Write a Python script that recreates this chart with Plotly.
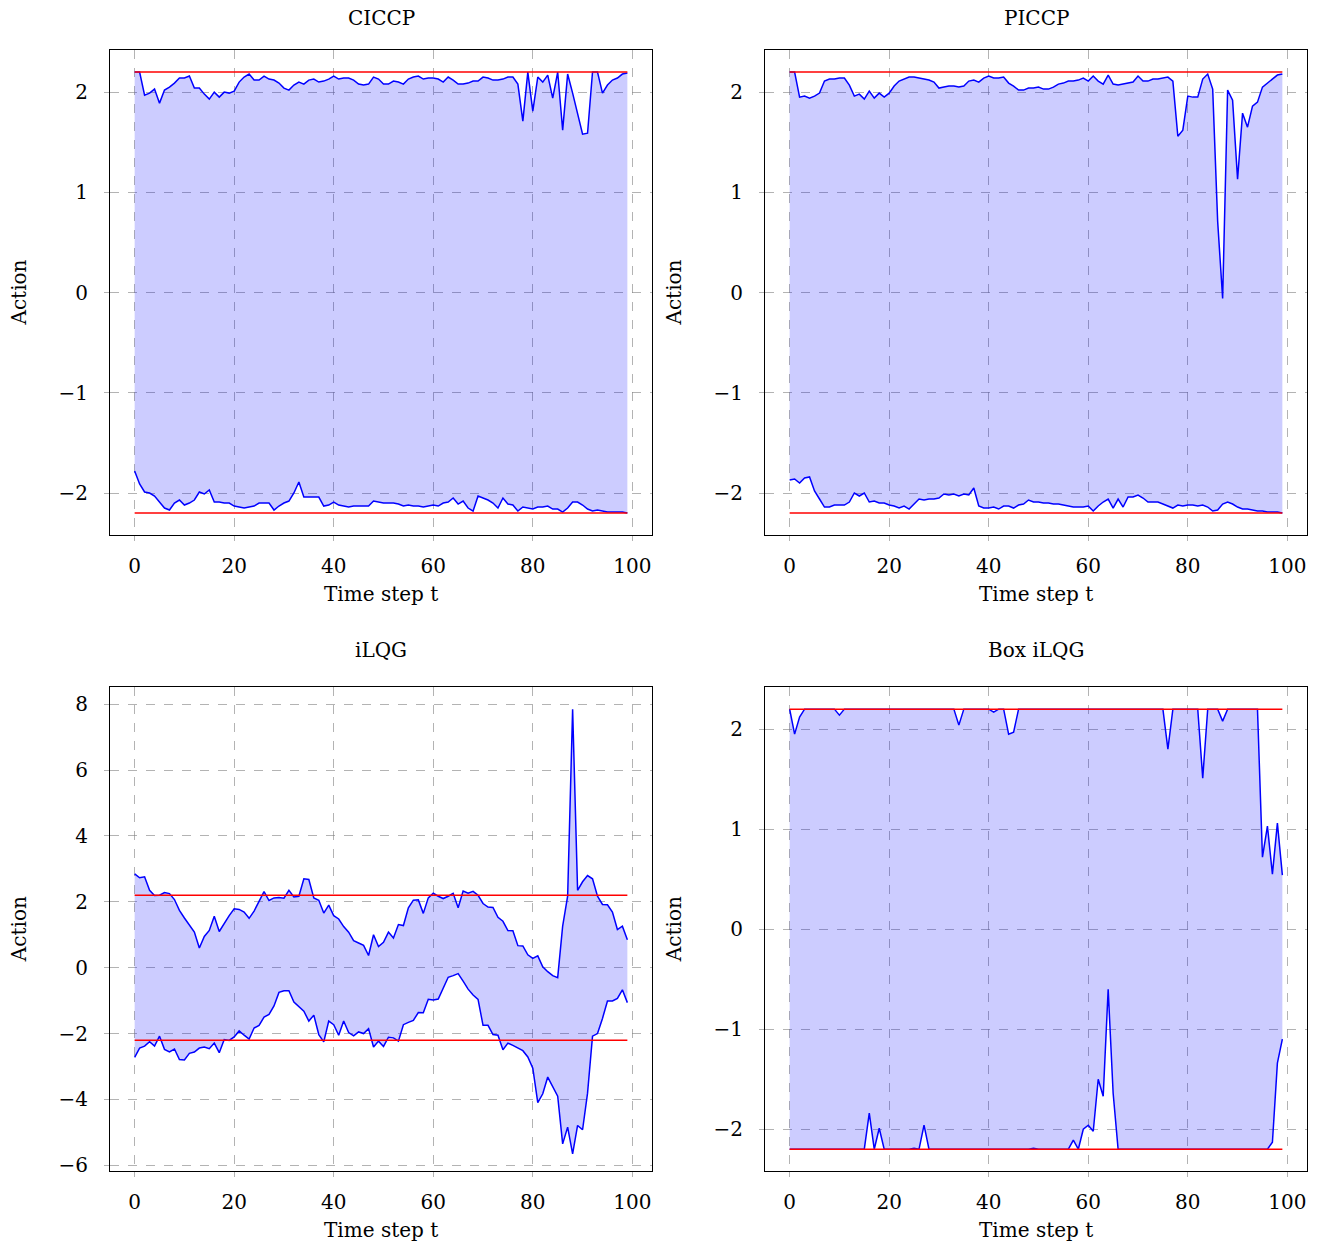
import plotly.graph_objects as go

t = list(range(100))

ciccp_upper = [2.2, 2.2, 1.97, 1.99, 2.03, 1.89, 2.02, 2.05, 2.09, 2.14,
               2.14, 2.16, 2.04, 2.04, 1.98, 1.93, 2.00, 1.95, 2.00, 1.99,
               2.01, 2.10, 2.15, 2.18, 2.12, 2.12, 2.16, 2.13, 2.12, 2.09,
               2.04, 2.02, 2.07, 2.10, 2.08, 2.12, 2.13, 2.10, 2.11, 2.13,
               2.16, 2.13, 2.14, 2.14, 2.12, 2.08, 2.07, 2.08, 2.15, 2.13,
               2.08, 2.08, 2.11, 2.10, 2.08, 2.13, 2.15, 2.16, 2.13, 2.14,
               2.14, 2.13, 2.10, 2.15, 2.12, 2.08, 2.08, 2.09, 2.11, 2.11,
               2.15, 2.14, 2.12, 2.12, 2.13, 2.15, 2.15, 2.08, 1.71, 2.2,
               1.81, 2.15, 2.10, 2.17, 1.94, 2.2, 1.62, 2.18, 1.99, 1.77,
               1.58, 1.59, 2.2, 2.2, 1.99, 2.07, 2.12, 2.14, 2.18, 2.19]
ciccp_lower = [-1.78, -1.91, -1.99, -2.00, -2.03, -2.09, -2.15, -2.17, -2.10, -2.07,
               -2.12, -2.10, -2.07, -1.99, -2.01, -1.97, -2.09, -2.09, -2.10, -2.10,
               -2.13, -2.14, -2.15, -2.14, -2.13, -2.10, -2.10, -2.10, -2.17, -2.13,
               -2.10, -2.08, -2.00, -1.89, -2.04, -2.04, -2.04, -2.04, -2.13, -2.12,
               -2.09, -2.12, -2.13, -2.14, -2.13, -2.13, -2.13, -2.13, -2.08, -2.09,
               -2.10, -2.10, -2.10, -2.11, -2.13, -2.12, -2.13, -2.13, -2.14, -2.13,
               -2.12, -2.13, -2.10, -2.09, -2.05, -2.11, -2.08, -2.15, -2.18, -2.03,
               -2.05, -2.07, -2.10, -2.15, -2.05, -2.11, -2.12, -2.18, -2.14, -2.15,
               -2.16, -2.14, -2.14, -2.13, -2.16, -2.16, -2.19, -2.15, -2.09, -2.09,
               -2.12, -2.16, -2.18, -2.17, -2.18, -2.19, -2.19, -2.19, -2.19, -2.20]

piccp_upper = [2.2, 2.2, 1.95, 1.96, 1.94, 1.96, 1.99, 2.11, 2.13, 2.13,
               2.14, 2.14, 2.07, 1.96, 1.98, 1.93, 2.01, 1.94, 1.99, 1.95,
               1.99, 2.06, 2.11, 2.13, 2.15, 2.15, 2.14, 2.13, 2.12, 2.10,
               2.04, 2.05, 2.06, 2.06, 2.05, 2.06, 2.11, 2.12, 2.10, 2.14,
               2.16, 2.14, 2.14, 2.15, 2.09, 2.06, 2.02, 2.02, 2.04, 2.04,
               2.05, 2.03, 2.03, 2.05, 2.08, 2.09, 2.11, 2.11, 2.12, 2.14,
               2.11, 2.16, 2.11, 2.08, 2.17, 2.08, 2.07, 2.08, 2.09, 2.10,
               2.16, 2.11, 2.11, 2.13, 2.13, 2.14, 2.15, 2.11, 1.56, 1.62,
               1.96, 1.95, 1.95, 2.13, 2.18, 2.03, 0.71, -0.06, 2.02, 1.92,
               1.13, 1.79, 1.65, 1.86, 1.90, 2.05, 2.09, 2.13, 2.17, 2.18]
piccp_lower = [-1.87, -1.86, -1.90, -1.85, -1.84, -1.98, -2.06, -2.14, -2.14, -2.12,
               -2.12, -2.12, -2.09, -2.00, -2.03, -2.00, -2.09, -2.08, -2.10, -2.10,
               -2.12, -2.13, -2.15, -2.13, -2.16, -2.11, -2.06, -2.07, -2.06, -2.06,
               -2.05, -2.01, -2.02, -2.01, -2.03, -2.01, -2.02, -1.95, -2.13, -2.15,
               -2.15, -2.14, -2.16, -2.13, -2.13, -2.15, -2.12, -2.11, -2.07, -2.09,
               -2.09, -2.10, -2.10, -2.11, -2.11, -2.12, -2.13, -2.14, -2.14, -2.14,
               -2.13, -2.18, -2.13, -2.09, -2.06, -2.15, -2.06, -2.14, -2.04, -2.04,
               -2.02, -2.05, -2.09, -2.09, -2.09, -2.11, -2.13, -2.15, -2.12, -2.13,
               -2.12, -2.12, -2.13, -2.12, -2.14, -2.18, -2.17, -2.11, -2.09, -2.11,
               -2.14, -2.16, -2.16, -2.17, -2.18, -2.18, -2.19, -2.19, -2.19, -2.20]

ilqg_upper = [2.85, 2.73, 2.76, 2.35, 2.19, 2.20, 2.28, 2.25, 2.07, 1.74,
              1.51, 1.31, 1.08, 0.60, 0.95, 1.13, 1.56, 1.10, 1.35, 1.58,
              1.79, 1.77, 1.69, 1.50, 1.72, 2.00, 2.31, 2.04, 2.12, 2.13,
              2.11, 2.35, 2.15, 2.17, 2.70, 2.68, 2.12, 2.05, 1.66, 1.90,
              1.58, 1.48, 1.25, 1.08, 0.82, 0.75, 0.68, 0.37, 1.00, 0.64,
              0.77, 1.08, 0.90, 1.31, 1.28, 1.82, 2.05, 2.06, 1.65, 2.12,
              2.26, 2.17, 2.10, 2.17, 2.26, 1.82, 2.33, 2.26, 2.32, 2.20,
              1.95, 1.84, 1.83, 1.53, 1.41, 1.13, 1.12, 0.67, 0.66, 0.39,
              0.28, 0.36, 0.03, -0.12, -0.24, -0.30, 1.26, 2.17, 7.85, 2.35,
              2.61, 2.80, 2.70, 2.17, 1.92, 1.91, 1.69, 1.16, 1.26, 0.85]
ilqg_lower = [-2.72, -2.44, -2.38, -2.25, -2.38, -2.08, -2.48, -2.56, -2.47, -2.79,
              -2.80, -2.60, -2.56, -2.44, -2.41, -2.46, -2.29, -2.58, -2.18, -2.21,
              -2.10, -1.92, -2.05, -2.17, -1.83, -1.75, -1.50, -1.42, -1.16, -0.75,
              -0.70, -0.70, -1.04, -1.17, -1.32, -1.62, -1.44, -2.03, -2.25, -1.62,
              -1.73, -2.05, -1.62, -1.97, -2.07, -1.95, -2.00, -1.85, -2.41, -2.23,
              -2.39, -2.11, -2.13, -2.23, -1.73, -1.66, -1.60, -1.36, -1.37, -0.96,
              -0.98, -0.95, -0.63, -0.29, -0.24, -0.18, -0.41, -0.65, -0.83, -0.96,
              -1.75, -1.75, -2.03, -2.05, -2.49, -2.29, -2.36, -2.44, -2.52, -2.71,
              -3.05, -4.10, -3.83, -3.32, -3.59, -3.90, -5.35, -4.84, -5.65, -4.79,
              -4.92, -3.81, -2.08, -2.00, -1.54, -1.01, -1.01, -0.93, -0.67, -1.06]

box_upper = [2.2, 1.95, 2.12, 2.2, 2.2, 2.2, 2.2, 2.2, 2.2, 2.2,
             2.14, 2.2, 2.2, 2.2, 2.2, 2.2, 2.2, 2.2, 2.2, 2.2,
             2.2, 2.2, 2.2, 2.2, 2.2, 2.2, 2.2, 2.2, 2.2, 2.2,
             2.2, 2.2, 2.2, 2.2, 2.04, 2.2, 2.2, 2.2, 2.2, 2.2,
             2.2, 2.17, 2.2, 2.2, 1.95, 1.97, 2.2, 2.2, 2.2, 2.2,
             2.2, 2.2, 2.2, 2.2, 2.2, 2.2, 2.2, 2.2, 2.2, 2.2,
             2.2, 2.2, 2.2, 2.2, 2.2, 2.2, 2.2, 2.2, 2.2, 2.2,
             2.2, 2.2, 2.2, 2.2, 2.2, 2.2, 1.80, 2.2, 2.2, 2.2,
             2.2, 2.2, 2.2, 1.51, 2.2, 2.2, 2.2, 2.08, 2.2, 2.2,
             2.2, 2.2, 2.2, 2.2, 2.2, 0.72, 1.03, 0.55, 1.06, 0.54]
box_lower = [-2.2, -2.2, -2.2, -2.2, -2.2, -2.2, -2.2, -2.2, -2.2, -2.2,
             -2.2, -2.2, -2.2, -2.2, -2.2, -2.2, -1.84, -2.2, -1.99, -2.2,
             -2.2, -2.2, -2.2, -2.2, -2.2, -2.19, -2.2, -1.96, -2.2, -2.2,
             -2.2, -2.2, -2.2, -2.2, -2.2, -2.2, -2.2, -2.2, -2.2, -2.2,
             -2.2, -2.2, -2.2, -2.2, -2.2, -2.2, -2.2, -2.2, -2.2, -2.19,
             -2.2, -2.2, -2.2, -2.2, -2.2, -2.2, -2.2, -2.11, -2.2, -2.00,
             -1.96, -2.02, -1.50, -1.67, -0.60, -1.64, -2.2, -2.2, -2.2, -2.2,
             -2.2, -2.2, -2.2, -2.2, -2.2, -2.2, -2.2, -2.2, -2.2, -2.2,
             -2.2, -2.2, -2.2, -2.2, -2.2, -2.2, -2.2, -2.2, -2.2, -2.2,
             -2.2, -2.2, -2.2, -2.2, -2.2, -2.2, -2.2, -2.13, -1.34, -1.10]

titles = ["CICCP", "PICCP", "iLQG", "Box iLQG"]
bound = 2.2
x_ticks = [0, 20, 40, 60, 80, 100]
y_ticks_small = [-2, -1, 0, 1, 2]
y_ticks_ilqg = [-6, -4, -2, 0, 2, 4, 6, 8]

W, H = 1327, 1247
KY = 0.995  # observed vertical scale of the photographed page
FONT = "DejaVu Serif"

# (upper, lower, x extent px, y extent px, y range, y ticks, title centre y px)
panels = [
    (ciccp_upper, ciccp_lower, (110, 652), (50, 535), [-2.42, 2.42], y_ticks_small, 18),
    (piccp_upper, piccp_lower, (765, 1307), (50, 535), [-2.42, 2.42], y_ticks_small, 18),
    (ilqg_upper, ilqg_lower, (110, 652), (687, 1171), [-6.18, 8.52], y_ticks_ilqg, 650),
    (box_upper, box_lower, (765, 1307), (687, 1171), [-2.42, 2.42], y_ticks_small, 650),
]

def px(x):
    return x / W

def py(y):
    return 1 - (y / KY) / H

fig = go.Figure()
annotations = []
for i, (up, lo, (x0, x1), (y0, y1), yr, yt, ty) in enumerate(panels):
    n = "" if i == 0 else str(i + 1)
    xa, ya = "x" + n, "y" + n
    fig.add_trace(go.Scatter(x=t, y=lo, mode="lines", line=dict(color="blue", width=1.5),
                             xaxis=xa, yaxis=ya, showlegend=False))
    fig.add_trace(go.Scatter(x=t, y=up, mode="lines", line=dict(color="blue", width=1.5),
                             fill="tonexty", fillcolor="rgba(0,0,255,0.2)",
                             xaxis=xa, yaxis=ya, showlegend=False))
    for b in (bound, -bound):
        fig.add_trace(go.Scatter(x=[t[0], t[-1]], y=[b, b], mode="lines",
                                 line=dict(color="red", width=1.5),
                                 xaxis=xa, yaxis=ya, showlegend=False))
    common = dict(showgrid=True, gridcolor="rgba(128,128,128,0.6)", griddash="dash", gridwidth=1,
                  showline=True, linecolor="black", linewidth=1, mirror=True,
                  ticks="outside", ticklen=5, tickcolor="rgba(128,128,128,0.6)",
                  zeroline=False, tickfont=dict(family=FONT, size=20, color="black"))
    fig.layout["xaxis" + n] = dict(domain=[px(x0), px(x1)], anchor=ya, range=[-4.95, 103.95],
                                   tickvals=x_ticks, ticklabelstandoff=8, **common)
    fig.layout["yaxis" + n] = dict(domain=[py(y1), py(y0)], anchor=xa, range=yr,
                                   tickvals=yt, ticktext=[str(v).replace("-", "\u2212") for v in yt],
                                   ticklabelstandoff=12, **common)
    cx = (x0 + x1) / 2
    annotations.append(dict(text=titles[i], x=px(cx), y=py(ty), xref="paper", yref="paper",
                            showarrow=False, font=dict(family=FONT, size=20, color="black"),
                            xanchor="center", yanchor="middle"))
    annotations.append(dict(text="Time step t", x=px(cx), y=py(y1 + 59), xref="paper", yref="paper",
                            showarrow=False, font=dict(family=FONT, size=20, color="black"),
                            xanchor="center", yanchor="middle"))
    annotations.append(dict(text="Action", x=px(x0 - 91), y=py((y0 + y1) / 2),
                            xref="paper", yref="paper", textangle=-90,
                            showarrow=False, font=dict(family=FONT, size=20, color="black"),
                            xanchor="center", yanchor="middle"))

fig.update_layout(width=W, height=H, margin=dict(l=0, r=0, t=0, b=0),
                  paper_bgcolor="white", plot_bgcolor="white", annotations=annotations)
fig.write_html("out.html", config={"displayModeBar": False},
               post_script="document.body.style.margin='0px';")
